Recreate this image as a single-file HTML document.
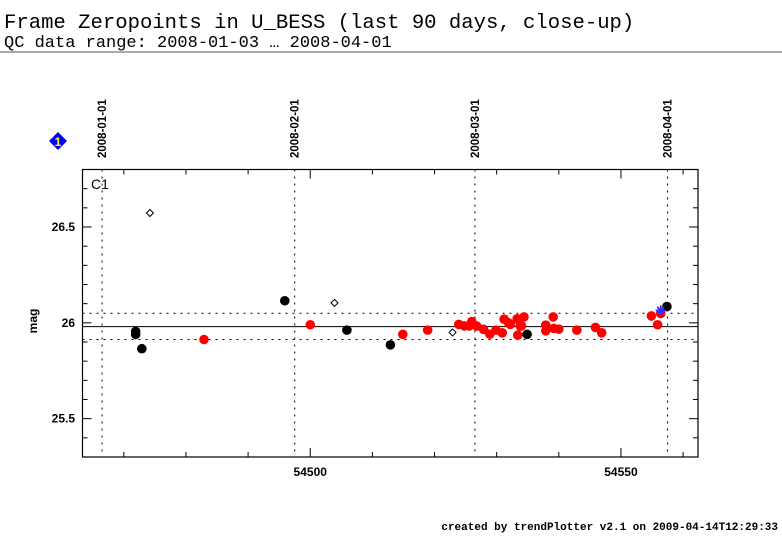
<!DOCTYPE html>
<html><head><meta charset="utf-8"><style>
body{margin:0;background:#fff;}
svg{display:block;}
</style></head><body>
<svg id="chart" width="782" height="542" xmlns="http://www.w3.org/2000/svg">
<text x="4" y="28" font-family="Liberation Mono, monospace" font-size="20.6">Frame Zeropoints in U_BESS (last 90 days, close-up)</text>
<text x="4" y="47" font-family="Liberation Mono, monospace" font-size="17">QC data range: 2008-01-03 … 2008-04-01</text>
<line x1="0" y1="52" x2="782" y2="52" stroke="#555" stroke-width="1"/>
<g>
<polygon points="58,132 67,141 58,150 49,141" fill="#0000ff"/>
<text x="58" y="146" font-family="Liberation Sans, sans-serif" font-size="12" font-weight="bold" fill="#ffff00" text-anchor="middle">1</text>
</g>
<text transform="translate(37,321) rotate(-90)" font-family="Liberation Sans, sans-serif" font-size="12" font-weight="bold" text-anchor="middle">mag</text>
<g id="grid"></g>
<g id="marks"></g>
<rect x="82.5" y="169.5" width="615.5" height="287.5" fill="none" stroke="#000" stroke-width="1.2"/>
<text x="91" y="189" font-family="Liberation Sans, sans-serif" font-size="14">C1</text>
<g id="axes"></g>
<text x="778" y="530" text-anchor="end" font-family="Liberation Mono, monospace" font-size="11" font-weight="bold">created by trendPlotter v2.1 on 2009-04-14T12:29:33</text>
</svg>
<script>
const redMjd=[54482.9,54500.0,54514.9,54518.9,54523.9,54524.8,54526.0,54525.6,54526.8,54527.9,54528.9,54529.9,54530.9,54531.2,54531.9,54532.2,54533.3,54533.4,54533.8,54534.4,54534.0,54537.9,54537.9,54539.1,54539.2,54540.0,54542.9,54545.9,54546.9,54554.9,54555.9,54556.4];
const redMag=[25.913,25.99,25.94,25.962,25.992,25.984,26.007,25.984,25.983,25.966,25.941,25.962,25.948,26.019,26.0,25.992,26.021,25.936,25.983,26.031,25.984,25.988,25.958,26.031,25.971,25.967,25.962,25.976,25.948,26.036,25.99,26.049];
const blackMjd=[54471.9,54471.9,54472.9,54495.9,54505.9,54512.9,54534.9,54557.4];
const blackMag=[25.955,25.94,25.865,26.115,25.962,25.885,25.94,26.085];
const openMjd=[54474.2,54503.9,54522.9];
const openMag=[26.573,26.104,25.95];
const starMjd=[54556.4];
const starMag=[26.065];
const lowerLimit=25.913, upperLimit=26.05, meanMag=25.98;
const dateLabels=["2008-01-01","2008-02-01","2008-03-01","2008-04-01"];
const dateMjd=[54466.5,54497.5,54526.5,54557.5];
const xTicks=[54500,54550];
const yTicks=[25.5,26,26.5];

const NS="http://www.w3.org/2000/svg";
const X0=82.5,X1=698,Y0=169.5,Y1=457;
const xMin=54463.35,xMax=54562.4,yMin=25.3,yMax=26.8;
function sx(v){return X0+(v-xMin)/(xMax-xMin)*(X1-X0);}
function sy(v){return Y1-(v-yMin)/(yMax-yMin)*(Y1-Y0);}
function mk(tag,attrs,parent){const e=document.createElementNS(NS,tag);for(const k in attrs)e.setAttribute(k,attrs[k]);parent.appendChild(e);return e;}
const grid=document.getElementById('grid'),marks=document.getElementById('marks'),axes=document.getElementById('axes'),svg=document.getElementById('chart');

let l=mk('line',{x1:X0,x2:X1,y1:sy(meanMag),y2:sy(meanMag),stroke:'#000','stroke-width':1},grid);


[upperLimit,lowerLimit].forEach(v=>{
 const d=mk('line',{x1:X0,x2:X1,y1:sy(v),y2:sy(v),stroke:'#000','stroke-width':1,'stroke-dasharray':'2,5'},grid);
 
 
});
dateMjd.forEach((m,i)=>{
 const x=sx(m);
 const d=mk('line',{x1:x,x2:x,y1:Y0,y2:Y1,stroke:'#000','stroke-width':1,'stroke-dasharray':'2,5'},grid);
 
 
 const t=mk('text',{transform:`translate(${x+4},158) rotate(-90)`,'font-family':'Liberation Sans, sans-serif','font-size':'11.5','font-weight':'bold'},svg);
 t.textContent=dateLabels[i];
 
 
});
for(let v=54470;v<=54560;v+=10){
 const x=sx(v),big=v%50===0;
 mk('line',{x1:x,x2:x,y1:Y1,y2:Y1-(big?9:5),stroke:'#000','stroke-width':1},axes);
 mk('line',{x1:x,x2:x,y1:Y0,y2:Y0+(big?9:5),stroke:'#000','stroke-width':1},axes);
}
for(let v=25.3;v<=26.81;v+=0.1){
 const y=sy(v),big=Math.abs(v*2-Math.round(v*2))<0.01;
 mk('line',{x1:X0,x2:X0+(big?9:5),y1:y,y2:y,stroke:'#000','stroke-width':1},axes);
 mk('line',{x1:X1,x2:X1-(big?9:5),y1:y,y2:y,stroke:'#000','stroke-width':1},axes);
}
xTicks.forEach(v=>{
 const t=mk('text',{x:sx(v),y:476,'text-anchor':'middle','font-family':'Liberation Sans, sans-serif','font-size':'12','font-weight':'bold'},axes);
 t.textContent=v;
 
 
});
yTicks.forEach(v=>{
 const t=mk('text',{x:75,y:sy(v)+4,'text-anchor':'end','font-family':'Liberation Sans, sans-serif','font-size':'12','font-weight':'bold'},axes);
 t.textContent=v;
 
 
});
openMjd.forEach((m,i)=>{
 const x=sx(m),y=sy(openMag[i]);
 const p=mk('polygon',{points:`${x},${y-3.5} ${x+3.5},${y} ${x},${y+3.5} ${x-3.5},${y}`,fill:'#fff',stroke:'#000','stroke-width':1},marks);
 
 
});
blackMjd.forEach((m,i)=>{
 const c=mk('circle',{cx:sx(m),cy:sy(blackMag[i]),r:4.8,fill:'#000'},marks);
 
 
});
redMjd.forEach((m,i)=>{
 const c=mk('circle',{cx:sx(m),cy:sy(redMag[i]),r:4.8,fill:'#ff0000'},marks);
 
 
});
starMjd.forEach((m,i)=>{
 const x=sx(m),y=sy(starMag[i]);
 const g=mk('g',{stroke:'#3333ff','stroke-width':1.8},marks);
 
 
 mk('line',{x1:x-5,x2:x+5,y1:y,y2:y},g);
 mk('line',{x1:x,x2:x,y1:y-5,y2:y+5},g);
 mk('line',{x1:x-3.5,x2:x+3.5,y1:y-3.5,y2:y+3.5},g);
 mk('line',{x1:x-3.5,x2:x+3.5,y1:y+3.5,y2:y-3.5},g);
});
</script>
</body></html>
